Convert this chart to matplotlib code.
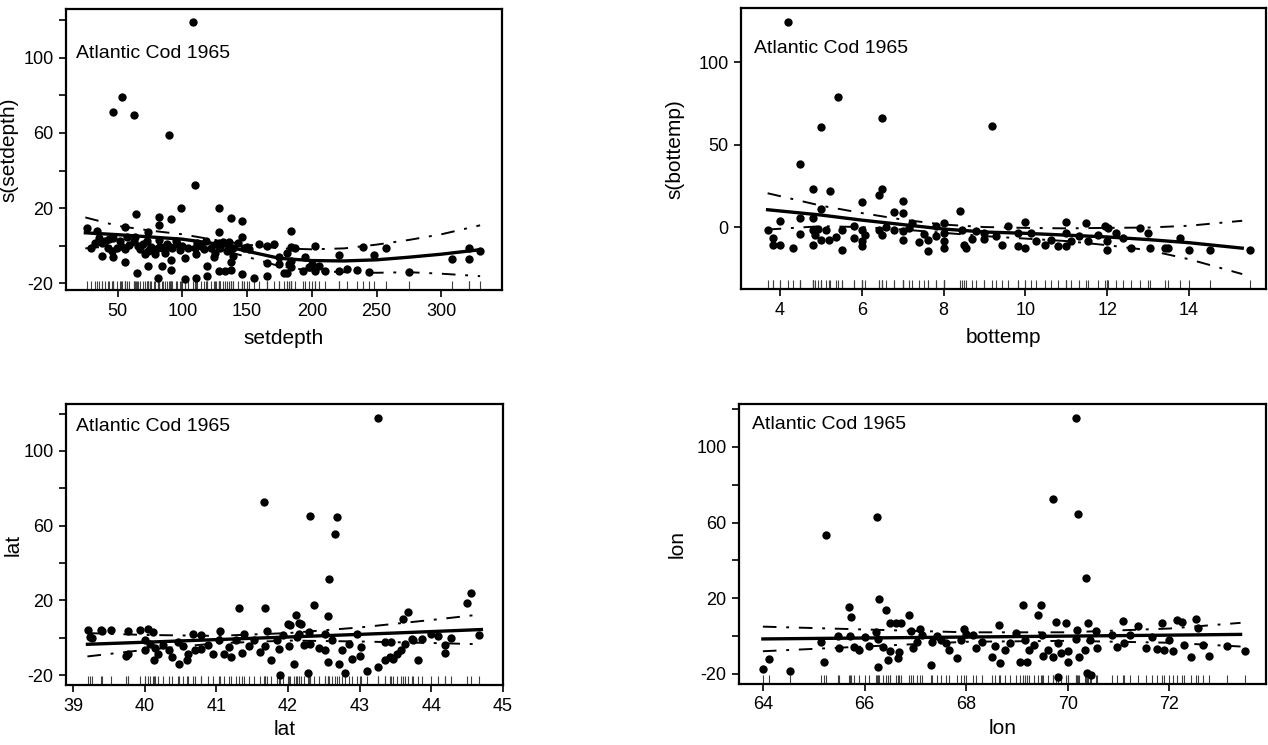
import numpy as np
import matplotlib.pyplot as plt

plt.rcParams['font.family'] = ['Liberation Sans', 'DejaVu Sans']

title = "Atlantic Cod 1965"

# ---- setdepth panel: (setdepth, partial residual)
depth_points = [
    (108.4, 119.2), (53.3, 79.4), (46.4, 71), (62.3, 69.4), (89.6, 59), (110, 32.3),
    (64.3, 16.8), (82.1, 15.1), (91.2, 14.2), (99.2, 20), (128.2, 20), (137.2, 14.7),
    (146.4, 13.3), (82.1, 10.7), (55.7, 10), (128.2, 7), (183.8, 7.7), (73.5, 7.2),
    (146.4, 4.6),
    (26.5, 9.5), (33.8, 7.7), (35.9, 4.2), (37.6, 1.1), (40.1, 2.5), (43.3, 3.3),
    (46.4, 3.9), (49.6, -1.4), (51.7, 2.5), (55.3, -1.9), (59.0, 0.4), (62.2, 2.5),
    (63.2, 4.6), (67.4, -1.9), (69.5, 0.7), (72.7, 2.5), (73.3, -2.8), (75.8, -0.7),
    (78.4, -2.8), (81.1, -1.1), (82.1, 2.8), (84.9, -1.4), (88.4, 0.7), (92.0, -1.4),
    (94.7, 2.5), (98.1, -2.5), (100, -0.2), (109.5, -1.4), (111.6, 1.1), (114.7, -0.2),
    (117.9, 2.5), (122.1, -1.1), (125.2, -3.7), (126.3, 0.7), (128.8, -1.4), (131.5, 2.1),
    (134.7, -2.8), (138.9, -1.1), (143.1, 1.1), (147.3, -1.4), (29.6, -1.1), (32.8, 1.6),
    (42.2, -1.1), (45.4, -2.8), (52.7, -0.2), (56.9, 4.6), (65.3, -0.2), (71.2, -4.6),
    (74.8, -1.9), (79.0, -4.6), (86.3, -3.7), (90.5, -0.7), (95.8, 0.7), (104.2, -1.4),
    (110.5, -4.6), (116.8, -1.9), (124.2, -6.3), (128.4, 1.6), (135.7, 1.9), (138.9, -5.4),
    (151.5, -1.9),
    (37.6, -5.4), (46.4, -6.3), (55.7, -9), (64.7, -14.6), (73.5, -10.9), (84.2, -10.7),
    (91.2, -7.7), (91.2, -12.8), (102.3, -6.7), (119.3, -10.9), (119.3, -16.3),
    (128.6, -13.7), (132.6, -13.3), (137.2, -8.9), (137.2, -12.8), (146.4, -15.1),
    (155.5, -17.2), (81.1, -17.2), (101.7, -17.7), (110.3, -17.2), (165.5, -0.2),
    (170.6, 0.7), (159.2, 1), (150.2, -0.5), (165.5, -9.3), (165.5, -16), (174.6, -9.8),
    (174.6, -6.3), (178.4, -14.6), (181, -14.6), (183.8, -0.7), (187.2, -1.4),
    (183.8, -8), (183.8, -11.6), (193, -13.3), (197.7, -11.6), (202.3, -0.2),
    (202.3, -13.3), (205.7, -10.7), (210.3, -13.3), (220.8, -4.9), (220.8, -13.3),
    (227.1, -12.5), (234.5, -13), (239.7, -1), (243.9, -14.2), (248.1, -4.9), (257, -1.4),
    (275.4, -13.9), (308.2, -7.3), (321.1, -6.9), (321.6, -1.1), (330.1, -2.8),
    (181, -4), (182, -10), (195, -6), (200, -10),
]
depth_grid = [25, 50, 75, 100, 125, 150, 175, 200, 225, 250, 275, 300, 330]
depth_fit = [6.8, 5.8, 4.6, 3.4, 1.0, -3.0, -6.8, -8.0, -8.2, -7.6, -6.2, -4.6, -2.2]
depth_upper = [15, 10.5, 8.0, 6.0, 3.0, 0.5, -1.5, -2.0, -1.5, 0.5, 3.0, 6.0, 10.8]
depth_lower = [-1.5, 0.0, 0.5, 0.5, -1.5, -6.0, -11.0, -13.5, -14.2, -14.5, -14.2, -15.0, -16.3]

# ---- bottemp panel
temp_points = [
    (4.2, 124.4), (5.41, 78.6), (5.0, 60.8), (6.5, 66.3), (4.5, 38.2), (4.81, 23.2),
    (5.22, 22), (6.5, 22.8), (6.42, 19.6), (6.0, 15), (7.0, 15.8), (5.0, 11), (6.8, 8.9),
    (7.0, 8.5), (8.4, 9.5), (4.0, 3.4), (4.5, 5.3), (4.81, 5.5), (3.72, -1.6), (3.82, -6.7),
    (3.82, -11.1), (4.0, -10.7), (4.32, -12.7), (4.5, -4.2), (4.81, -1.6), (4.81, -10.7),
    (4.85, -4.6), (4.93, -1.2), (5.0, -7.7), (5.2, -7.7), (5.13, -1.6), (5.38, -6.1),
    (5.52, -1.6), (5.52, -14.1), (5.82, 0.4), (5.82, -6.7), (6.0, -1.6), (6.0, -8.7),
    (6.0, -11.7), (6.07, -4.6), (6.42, -1.6), (6.5, -4.6), (6.6, -0.2), (6.8, -1.6),
    (7.0, -2.6), (7.0, -8.1), (7.16, -0.6), (7.24, 2.4), (7.4, -9.3), (7.51, -4.0),
    (7.61, -7.7), (7.61, -14.7), (7.81, -5.7), (7.81, 0.4), (8.0, -3.6), (8.0, -12.7),
    (8.0, -8.7), (8.0, 2.4), (8.46, -1.6), (8.5, -10.7), (8.54, -12.7), (8.7, -7.3),
    (9.18, 61.2), (8.79, -2.6), (8.99, -7.3), (8.99, -3.6), (9.28, -5.7), (9.44, -10.7),
    (9.57, 0.8), (9.81, -3.6), (9.81, -11.7), (10.0, 2.8), (10.0, -12.7), (10.14, -3.6),
    (10.26, -8.7), (10.47, -10.7), (10.63, -7.7), (10.79, -11.7), (11.0, 2.8), (11.0, -3.6),
    (11.0, -11.3), (11.12, -8.7), (11.32, -5.7), (11.49, 2.4), (11.53, -8.7), (11.77, -4.6),
    (11.94, 0.4), (12.02, -0.6), (12.0, -8.7), (12.0, -13.7), (12.22, -3.6), (12.39, -6.7),
    (12.59, -12.7), (12.8, -0.6), (13.0, -3.6), (13.04, -12.7), (13.41, -12.7),
    (13.49, -12.7), (13.79, -6.7), (14.0, -13.7), (14.5, -13.7), (15.49, -13.7),
]
temp_grid = [3.7, 5, 6, 7, 8, 9, 10, 11, 12, 13, 14, 15.3]
temp_fit = [10.5, 7.3, 4.2, 1.5, -1.2, -3.0, -3.8, -4.9, -6.0, -7.6, -9.5, -12.8]
temp_upper = [20.5, 13.0, 8.5, 4.5, 1.5, 0.0, -0.5, -0.8, -0.5, -0.3, 0.8, 3.8]
temp_lower = [-1.5, 0.5, 0.0, -1.5, -3.5, -5.5, -7.0, -8.5, -11.0, -14.0, -19.5, -28.5]

# ---- lat panel
lat_points = [
    (43.25, 117.6), (41.66, 72.5), (42.31, 65.2), (42.68, 64.8), (42.65, 55.4),
    (42.57, 31.3), (44.55, 23.9), (44.5, 18.7), (42.36, 17.4), (41.31, 15.7), (41.68, 16),
    (43.68, 14), (42.11, 12.3), (42.56, 11.9), (43.61, 9.8), (42.0, 7.1), (42.15, 8),
    (44.67, 1.6),
    (39.21, 4.3), (39.27, 0), (39.40, 3.4), (39.53, 3.9), (39.77, -8.6), (39.77, 3.4),
    (39.94, 4.3), (40.05, 4.8), (40.11, 3), (40.0, -1.4), (40.07, -3.2), (40.0, -6.4),
    (40.15, -5.4), (40.19, -8.6), (40.13, -11.8), (40.26, -4.1), (40.34, -6.8),
    (40.38, -10.4), (40.46, -2.3), (40.48, -13.9), (40.53, -4.6), (40.59, -12.1),
    (40.61, -8.6), (40.67, 1.8), (40.70, -6.8), (40.78, -5.9), (40.78, 1.3), (40.88, -4.1),
    (40.95, -8.6), (41.05, 3.6), (41.03, -1.4), (41.11, -8.6), (41.18, -5), (41.20, -10.4),
    (41.27, -1.4), (41.36, -8.2), (41.39, 1.8), (41.45, -4.6), (41.53, -1.4),
    (41.61, -7.7), (41.70, 3.4), (41.68, -4.6), (41.76, -11.8), (41.84, -1.4),
    (41.87, -5.9), (41.93, 1.3), (42.01, -4.6), (42.03, 6.6), (42.08, -14.3), (42.12, 0.4),
    (42.16, 2.1), (42.18, 7.5), (42.22, -4.1), (42.31, -3.2), (42.43, -5.4), (42.52, -6.8),
    (42.56, -13), (42.62, -1.4), (42.71, -14.3), (42.75, -6.8), (42.85, -3.2),
    (42.89, -11.2), (42.97, 2.1), (43.00, -9.5), (43.02, -5), (43.10, -18), (43.25, -15.4),
    (43.35, -11.8), (43.43, -10.4), (43.46, -11.2), (43.52, -8.6), (43.58, -6.8),
    (43.64, -3.2), (43.75, -1.1), (43.81, -11.8), (43.35, -2.3), (43.44, -2.3),
    (42.52, 2.1), (42.3, 3), (41.89, -20.2), (42.28, -19), (42.79, -19),
    (43.73, -0.6), (43.87, -0.6), (43.99, 2.1), (44.09, 1.0), (44.19, -4.1), (44.19, -8.2),
    (44.27, -0.2), (39.23, 0.5), (39.39, 3.9), (39.74, -9.5),
]
lat_grid = [39.2, 40, 41, 42, 43, 44, 44.7]
lat_fit = [-3.5, -2.4, -1.0, 0.4, 1.8, 3.3, 4.4]
lat_upper = [2.5, 1.5, 1.0, 2.5, 5.5, 9.5, 12.5]
lat_lower = [-10.0, -6.5, -3.0, -1.5, -2.0, -2.8, -3.5]

# ---- lon panel
lon_points = [
    (70.16, 115.4), (69.71, 72.6), (70.21, 64.7), (66.25, 62.7), (65.25, 53.4),
    (70.36, 30.6), (66.29, 19.5), (65.69, 15.6), (69.11, 16.2), (69.48, 16.2),
    (66.42, 13.9), (66.88, 11.4), (65.73, 10), (69.41, 11.2),
    (64.0, -17.5), (64.13, -12.2), (64.53, -18.4), (65.14, -2.9), (65.21, -13.5),
    (65.48, 0.1), (65.50, -6.4), (65.72, 0.1), (65.79, -5.9), (65.90, -7.3), (66.01, -0.3),
    (66.08, -5.2), (66.22, 2.4), (66.26, -1.7), (66.27, -16.1), (66.36, -5.9),
    (66.47, -12.6), (66.5, 6.8), (66.61, 6.8), (66.72, 7.1), (66.65, -11.7), (66.67, -8.2),
    (66.5, -7.7), (66.91, 2.9), (66.96, -6.4), (67.04, -2.9), (67.09, 3.8), (67.14, 0.6),
    (67.30, -15.2), (67.32, -2.9), (67.43, 0.1), (67.5, -2), (67.6, -3.8), (67.67, -7.3),
    (67.82, -11.7), (67.89, -2), (67.96, 3.8), (68.0, 1.1), (68.13, 0.6), (68.2, -6.4),
    (68.31, -2.9), (68.51, -10.8), (68.56, -5.2), (68.64, 5.9), (68.67, -14),
    (68.77, -7.3), (68.87, -3.8), (68.99, 1.9), (69.06, -13.5), (69.16, -2), (69.2, -13.5),
    (69.23, -7.3), (69.34, -4.7), (69.5, 0.6), (69.52, -10.5), (69.62, -7.3),
    (69.70, -11.2), (69.77, 7.7), (69.8, -3.8), (69.87, -8.7), (69.96, 6.8), (70.0, -7.7),
    (70.01, -13.5), (70.16, -1.7), (70.19, 3.3), (70.23, -10.8), (70.33, -7.3),
    (70.40, 7.1), (70.44, -2), (70.55, 2.9), (70.58, -6.4), (70.87, 0.6), (70.97, -5.9),
    (71.09, 8.2), (71.11, -3.8), (71.22, 0.6), (71.39, 5.4), (71.54, -6.4), (71.65, -0.3),
    (71.75, -7), (71.86, 7.1), (71.89, -7.3), (72.0, -2), (72.07, -7.7), (72.14, 8.5),
    (72.25, 7.7), (72.28, -4.7), (72.43, -10.8), (72.53, 8.9), (72.57, 4.1), (72.67, -4.7),
    (72.77, -10.5), (73.13, -5.2), (73.49, -7.7), (69.8, -21.4), (70.37, -19.6),
    (70.45, -20.5),
]
lon_grid = [64, 66, 68, 70, 72, 73.4]
lon_fit = [-1.5, -1.0, -0.5, 0.0, 0.5, 0.9]
lon_upper = [5.0, 3.5, 2.0, 2.0, 4.0, 7.0]
lon_lower = [-8.0, -5.5, -3.0, -2.5, -3.5, -5.5]


def draw_panel(ax, points, grid, fit, upper, lower, xlim, ylim, xticks,
               yticks, ylabeled, xlabel, ylabel, title_y, ylab_x, xlab_y):
    x, y = np.array(points).T
    ax.scatter(x, y, s=36, color='black', zorder=3, linewidths=0)
    ax.plot(grid, fit, color='black', lw=2.4, zorder=4)
    band = (0, (7, 5, 1.5, 5))
    ax.plot(grid, upper, color='black', lw=1.4, linestyle=band, zorder=4)
    ax.plot(grid, lower, color='black', lw=1.4, linestyle=band, zorder=4)
    # rug along the bottom
    ax.vlines(x, 0, 0.032, transform=ax.get_xaxis_transform(),
              color='0.25', lw=0.8, zorder=2)
    ax.set_xlim(*xlim)
    ax.set_ylim(*ylim)
    ax.set_xticks(xticks)
    ax.set_xticklabels([str(t) for t in xticks])
    ax.set_yticks(yticks)
    ax.set_yticklabels([str(t) if t in ylabeled else '' for t in yticks])
    ax.tick_params(direction='out', length=5, width=1.2, labelsize=13, pad=4)
    for sp in ax.spines.values():
        sp.set_linewidth(1.6)
    ax.set_xlabel(xlabel, fontsize=15)
    ax.set_ylabel(ylabel, fontsize=15)
    ax.xaxis.set_label_coords(0.5, xlab_y)
    ax.yaxis.set_label_coords(ylab_x, 0.5)
    ax.text(0.024, title_y, title, transform=ax.transAxes, fontsize=14,
            va='center', ha='left')


fig = plt.figure(figsize=(12.68, 7.45), dpi=100)
ax1 = fig.add_axes([0.052, 0.6107, 0.344, 0.377])
ax2 = fig.add_axes([0.5844, 0.612, 0.414, 0.377])
ax3 = fig.add_axes([0.052, 0.0805, 0.3446, 0.377])
ax4 = fig.add_axes([0.5828, 0.0819, 0.4156, 0.376])

draw_panel(ax1, depth_points, depth_grid, depth_fit, depth_upper, depth_lower,
           (10, 347), (-23.7, 126), [50, 100, 150, 200, 250, 300],
           [-20, 0, 20, 40, 60, 80, 100, 120], [-20, 20, 60, 100],
           'setdepth', 's(setdepth)', 0.843, -0.11, -0.14)
draw_panel(ax2, temp_points, temp_grid, temp_fit, temp_upper, temp_lower,
           (3.05, 15.88), (-37.6, 132.7), [4, 6, 8, 10, 12, 14],
           [0, 50, 100], [0, 50, 100],
           'bottemp', 's(bottemp)', 0.858, -0.107, -0.14)
draw_panel(ax3, lat_points, lat_grid, lat_fit, lat_upper, lat_lower,
           (38.9, 45.0), (-25.3, 125), [39, 40, 41, 42, 43, 44, 45],
           [-20, 0, 20, 40, 60, 80, 100, 120], [-20, 20, 60, 100],
           'lat', 'lat', 0.92, -0.098, -0.125)
draw_panel(ax4, lon_points, lon_grid, lon_fit, lon_upper, lon_lower,
           (63.53, 73.9), (-25.3, 122.7), [64, 66, 68, 70, 72],
           [-20, 0, 20, 40, 60, 80, 100, 120], [-20, 20, 60, 100],
           'lon', 'lon', 0.925, -0.099, -0.125)

fig.savefig('out.png', dpi=100)
